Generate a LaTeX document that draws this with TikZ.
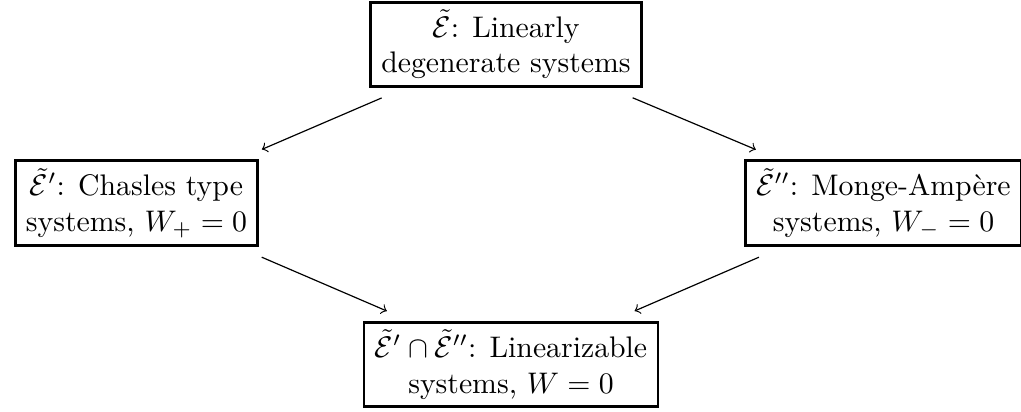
\documentclass[tikz,border=0pt]{standalone}
\begin{document}
\begin{tikzpicture}[x=0.336pt,y=-0.336pt,
  box/.style={draw,line width=0.95pt,align=center,inner xsep=3.6pt,inner ysep=2.5pt},
  arr/.style={->,line width=0.4pt,shorten <=8.5pt,shorten >=8.5pt}]
\useasboundingbox (0,0) rectangle (1021,412);
\node[box] (top) at (506,44.5) {$\tilde{\mathcal{E}}$: Linearly\\degenerate systems};
\node[box] (left) at (136.5,203.3) {$\tilde{\mathcal{E}}'$: Chasles type\\systems, $W_+=0$};
\node[box] (right) at (883.5,203.3) {$\tilde{\mathcal{E}}''$: Monge-Amp\`ere\\systems, $W_-=0$};
\node[box] (bot) at (511,364.5) {$\tilde{\mathcal{E}}'\cap\tilde{\mathcal{E}}''$: Linearizable\\systems, $W=0$};
\draw[arr] (top) -- (left);
\draw[arr] (top) -- (right);
\draw[arr] (left) -- (bot);
\draw[arr] (right) -- (bot);
\end{tikzpicture}
\end{document}
